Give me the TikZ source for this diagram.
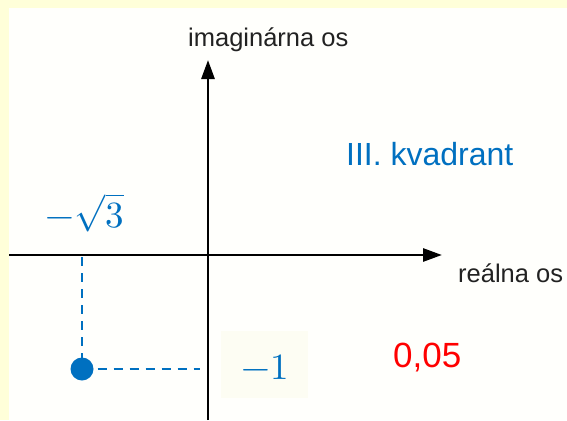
\documentclass[tikz,border=0pt]{standalone}
\usepackage{fontspec}
\usepackage{unicode-math}
\setmainfont{Liberation Sans}
\setmathfont{Latin Modern Math}
\usetikzlibrary{arrows.meta}
\definecolor{bgyellow}{HTML}{FFFFD9}
\definecolor{inner}{HTML}{FFFFFC}
\definecolor{boxbg}{HTML}{FDFDF3}
\definecolor{myblue}{HTML}{0070C0}
\definecolor{myred}{HTML}{FF0000}
\definecolor{txtgray}{HTML}{222222}
\tikzset{
  axisline/.style={line width=2.8pt, draw=black},
  axistip/.style={-{Triangle[length=19pt,width=13pt]}},
  guide/.style={draw=myblue, line width=2.4pt, dash pattern=on 9pt off 7pt},
  axlabel/.style={font=\fontsize{25.5}{28}\selectfont, text=txtgray, inner sep=0pt},
  bluelabel/.style={font=\fontsize{32}{36}\selectfont, text=myblue, inner sep=0pt},
  redlabel/.style={font=\fontsize{35}{40}\selectfont, text=myred, inner sep=0pt},
  mathlabel/.style={font=\fontsize{37}{42}\selectfont, text=myblue, inner sep=0pt},
  dot/.style={circle, fill=myblue, minimum size=23pt, inner sep=0pt}
}
\begin{document}
\begin{tikzpicture}[x=1pt,y=-1pt]
  \useasboundingbox (0,0) rectangle (567,420);
  \fill[bgyellow] (0,0) rectangle (567,420);
  \fill[inner] (9,8) rectangle (567,420);
  % box behind -1
  \fill[boxbg] (221,331) rectangle (308,398);
  % axes
  \coordinate (xstart) at (9,255);
  \coordinate (xend) at (442,255);
  \coordinate (ybot) at (208,420);
  \coordinate (ytop) at (208,60);
  \draw[axisline, axistip] (xstart) -- (xend);
  \draw[axisline, axistip] (ybot) -- (ytop);
  % labels
  \node[axlabel, anchor=base west] (im) at (188,47) {imaginárna os};
  \node[axlabel, anchor=base west] (re) at (458,282) {reálna os};
  \node[bluelabel, anchor=base west] (kv) at (346,165) {III. kvadrant};
  \node[redlabel, anchor=base west] (val) at (393,367) {0,05};
  \node[mathlabel, anchor=base] (sq) at (85,227) {$-\sqrt{3}$};
  \node[mathlabel, anchor=base] (m1) at (265,379) {$-1$};
  % point and guides
  \node[dot] (P) at (82,369) {};
  \coordinate (Px) at (82,257);
  \coordinate (Py) at (200,369);
  \draw[guide] (Px) -- ([yshift=-1pt]P.north);
  \draw[guide] ([xshift=4pt]P.east) -- (Py);
\end{tikzpicture}
\end{document}
